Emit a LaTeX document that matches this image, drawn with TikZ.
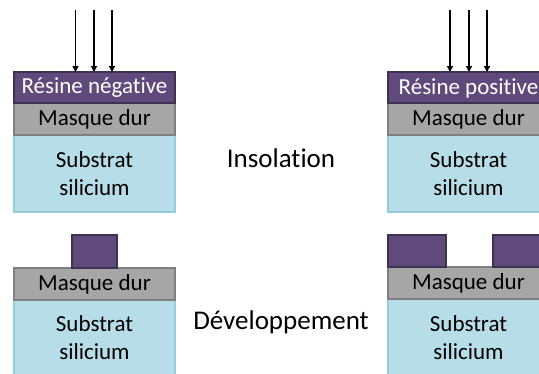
\documentclass[tikz,border=0pt]{standalone}
\usepackage{fontspec}
\setmainfont{Carlito}[Ligatures=NoCommon]
\definecolor{resinfill}{HTML}{604A7B}
\definecolor{resindraw}{HTML}{3F3151}
\definecolor{maskfill}{HTML}{A6A6A6}
\definecolor{maskdraw}{HTML}{7F7F7F}
\definecolor{subfill}{HTML}{B7DEE8}
\definecolor{subdraw}{HTML}{93CDDD}
\usetikzlibrary{arrows.meta}
\tikzset{
  resin/.style={fill=resinfill,draw=resindraw,line width=1.2pt},
  mask/.style={fill=maskfill,draw=maskdraw,line width=1.2pt},
  sub/.style={fill=subfill,draw=subdraw,line width=1.2pt},
  lbl/.style={font=\fontsize{23}{28}\selectfont,align=center,inner sep=0pt},
  big/.style={font=\fontsize{27}{32}\selectfont,inner sep=0pt},
  ray/.style={-{Triangle[length=6pt,width=6pt]},line width=1.5pt},
}
\begin{document}
\begin{tikzpicture}[x=1pt,y=-1pt]
\useasboundingbox (0,0) rectangle (539,373);
\clip (0,0) rectangle (539,373);
% top left
\path[sub] (14,135) rectangle (175,212);
\path[mask] (14,103) rectangle (175,135);
\path[resin] (14,72) rectangle (175,103);
\node[lbl,text=white] (rn) at (94.5,88) {Résine négative};
\node[lbl] (m1) at (94.5,119.5) {Masque dur};
\node[lbl] (s1) at (94.5,174) {Substrat\\silicium};
\foreach \x/\n in {75.5/a,94/b,112/c}{
  \coordinate (t1\n) at (\x,10);
  \coordinate (h1\n) at (\x,72);
  \draw[ray] (t1\n) -- (h1\n);
}
% top right
\path[sub] (388,135) rectangle (549,212);
\path[mask] (388,103) rectangle (549,135);
\path[resin] (388,72) rectangle (549,103);
\node[lbl,text=white] (rp) at (468.5,88) {Résine positive};
\node[lbl] (m2) at (468.5,119.5) {Masque dur};
\node[lbl] (s2) at (468.5,174) {Substrat\\silicium};
\foreach \x/\n in {450/a,469/b,487/c}{
  \coordinate (t2\n) at (\x,10);
  \coordinate (h2\n) at (\x,72);
  \draw[ray] (t2\n) -- (h2\n);
}
\node[big] (ins) at (281,158) {Insolation};
% bottom left
\path[sub] (14,300) rectangle (175,385);
\path[mask] (14,268) rectangle (175,300);
\path[resin] (72,235) rectangle (117,268);
\node[lbl] (m3) at (94.5,284) {Masque dur};
\node[lbl] (s3) at (94.5,338) {Substrat\\silicium};
% bottom right
\path[sub] (388,299) rectangle (549,385);
\path[mask] (388,267) rectangle (549,299);
\path[resin] (388,235) rectangle (446,267);
\path[resin] (493,235) rectangle (560,267);
\node[lbl] (m4) at (468.5,283) {Masque dur};
\node[lbl] (s4) at (468.5,338) {Substrat\\silicium};
\node[big] (dev) at (281,322) {Développement};
\end{tikzpicture}
\end{document}
